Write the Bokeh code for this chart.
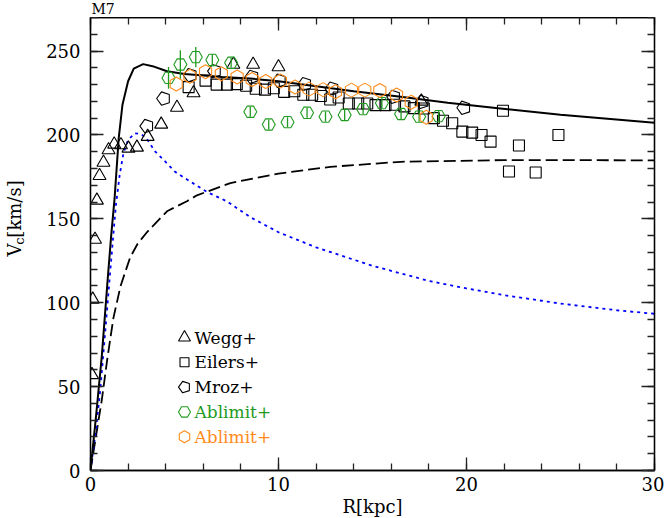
import numpy as np
from bokeh.plotting import figure
from bokeh.layouts import column, row
from bokeh.models import Range1d, LinearAxis, SingleIntervalTicker, ColumnDataSource
from bokeh.core.properties import value
from bokeh.embed import file_html
from bokeh.resources import INLINE

# ---------------- model curves ----------------
r_total = [0, 0.3, 0.6, 0.9, 1.1, 1.28, 1.5, 1.7, 2.0, 2.3, 2.8, 3.3, 4.07, 5.0, 5.85, 7.0, 8.5,
           10, 12, 14, 16.5, 19, 21.8, 25, 30]
v_total = [0, 33, 68, 112, 140, 162, 198, 218, 232, 239.5, 242.2, 241, 238, 236.3, 235.6, 234.6, 233.6,
           232, 229, 226, 222.7, 219.2, 215.8, 212, 207.3]

r_halo = [0, 0.3, 0.6, 0.9, 1.22, 1.6, 2.11, 2.5, 3.0, 4.07, 5.13, 5.66, 7.44, 10, 12.76, 16.5, 22, 26, 30]
v_halo = [0, 21, 42, 67, 91, 110, 127, 135, 142, 154.5, 160.5, 164, 171.3, 177, 181, 184, 185, 185, 184.8]

r_bulge = [0, 0.3, 0.52, 0.8, 1.0, 1.15, 1.35, 1.55, 1.75, 2.0, 2.35, 2.7, 3.0, 3.45, 3.9, 4.5, 5.3,
           6.2, 7.26, 8.5, 10, 12, 15, 18, 20, 22, 25, 28, 30]
v_bulge = [0, 25, 48, 85, 112, 132, 158, 176, 189, 197, 201, 200.5, 197.5, 190, 185, 178, 172.3,
           166, 160.4, 151, 142, 133, 122, 113, 108.5, 104.5, 99.5, 95.5, 93.4]

# ---------------- observations ----------------
wegg_r = [0.08, 0.12, 0.24, 0.34, 0.48, 0.69, 0.96, 1.26, 1.62, 2.02, 2.47, 3.04, 3.76, 4.6, 5.48,
          7.6, 8.65, 10.0, 17.6]
wegg_v = [57, 102, 137.7, 161, 175.7, 183.6, 191, 194.4, 194, 192, 192.6, 199, 206.3, 216.4, 225,
          242, 242, 240.5, 220]

eilers_r = [5.22, 6.12, 6.71, 7.26, 7.78, 8.28, 8.79, 9.28, 9.75, 10.3, 10.84, 11.32, 11.79, 12.25,
            12.75, 13.2, 13.74, 14.24, 14.72, 15.16, 15.69, 16.2, 16.7, 17.2, 17.73, 18.26, 18.75,
            19.24, 19.78, 20.3, 20.8, 21.28, 21.94, 22.26, 22.79, 23.68, 24.89]
eilers_v = [228.5, 232.4, 230, 230, 230.3, 229.3, 227.5, 227, 227.8, 225.7, 226, 224, 224, 223.2,
            221.1, 222.3, 218.7, 218.7, 218.7, 217.8, 217.8, 218, 217, 216, 215.8, 210, 208.5,
            207, 202, 201.4, 200, 196, 214.4, 178.2, 193.7, 177.6, 200]

mroz_r = [3.0, 3.89, 5.31, 6.6, 8.59, 10.05, 11.4, 12.85, 16.13, 17.65, 19.86]
mroz_v = [205.3, 221.7, 235.6, 238, 234.6, 232.3, 230.3, 227.6, 222.7, 219.7, 216.2]

ablg_r = [4.15, 4.78, 5.6, 6.48, 7.48, 8.5, 9.48, 10.48, 11.52, 12.5, 13.52, 14.5, 15.5, 16.52, 17.48, 18.52]
ablg_v = [234, 242, 246.4, 244.7, 243, 213.8, 206.2, 207.6, 213.2, 210.9, 211.9, 215.4, 219, 212.5, 210.9, 211.2]
ablg_e = [6.5, 8.5, 6, 3.5, 3, 3, 3, 3, 3, 3, 3, 3, 3, 3, 3, 3]

ablo_r = [4.56, 5.29, 6.12, 6.96, 7.8, 8.6, 9.32, 10.1, 10.88, 11.63, 12.37, 13.03, 13.88, 14.59,
          15.39, 16.28, 17.06, 17.86]
ablo_v = [230.4, 235, 237.7, 236.5, 234.5, 233, 231.8, 232.1, 228.6, 227.3, 227, 225.7, 226.7, 226.7,
          226.5, 223.8, 219.5, 210.6]

legend_labels = ["Wegg+", "Eilers+", "Mroz+", "Ablimit+", "Ablimit+"]
title_text = "M7"
x_label = "R[kpc]"
y_label_main, y_label_sub, y_label_unit = "V", "c", "[km/s]"

# ---------------- layout / style ----------------
FONT = "DejaVu Serif"
GREEN = "#1f9a1f"
ORANGE = "#ff8c1a"
PAGE_W, PAGE_H = 664, 518
TOP_H, LEFT_W = 17, 42
FW, FH = 564, 453
ML, MR, MT, MB = 48, 10, 0, 48
X0, X1, Y0, Y1 = 0, 30, 0, 270
SX, SY = FW / (X1 - X0), FH / (Y1 - Y0)
FRAME_LEFT = LEFT_W + ML
FRAME_TOP = TOP_H + MT


def px_to_x(page_x):
    return X0 + (page_x - FRAME_LEFT) / SX


def px_to_y(page_y):
    return Y0 + (FRAME_TOP + FH - page_y) / SY


def strip(w, h):
    f = figure(width=w, height=h, x_range=Range1d(0, w), y_range=Range1d(0, h),
               min_border_left=0, min_border_right=0, min_border_top=0, min_border_bottom=0,
               x_axis_location=None, y_axis_location=None,
               output_backend="svg", toolbar_location=None, tools="")
    f.outline_line_color = None
    f.grid.visible = False
    f.background_fill_color = "white"
    f.border_fill_color = "white"
    return f


# top strip with the panel name
top_fig = strip(PAGE_W, TOP_H)
top_fig.text(x=[91], y=[TOP_H / 2], text=[title_text], text_font=value(FONT), text_font_size="14px",
             text_color="black", text_baseline="middle", text_align="left")

# left strip with the y-axis title (V_c[km/s])
MAIN_H = MT + FH + MB
left_fig = strip(LEFT_W, MAIN_H)
start = 282  # page y where the rotated label starts (bottom)
left_fig.text(x=[14], y=[PAGE_H - start], text=[y_label_main], angle=np.pi / 2,
              text_font=value(FONT), text_font_size="18px", text_color="black",
              text_baseline="middle", text_align="left")
left_fig.text(x=[19], y=[PAGE_H - (start - 13)], text=[y_label_sub], angle=np.pi / 2,
              text_font=value(FONT), text_font_size="13px", text_color="black",
              text_baseline="middle", text_align="left")
left_fig.text(x=[14], y=[PAGE_H - (start - 21)], text=[y_label_unit], angle=np.pi / 2,
              text_font=value(FONT), text_font_size="18px", text_color="black",
              text_baseline="middle", text_align="left")

p = figure(frame_width=FW, frame_height=FH, min_border_left=ML, min_border_right=MR,
           min_border_top=MT, min_border_bottom=MB,
           x_range=Range1d(X0, X1), y_range=Range1d(Y0, Y1),
           output_backend="svg", toolbar_location=None, tools="")
p.xgrid.visible = False
p.ygrid.visible = False
p.outline_line_color = "black"
p.outline_line_width = 1.3
p.background_fill_color = "white"
p.border_fill_color = "white"


def style_axis(ax, labels):
    ax.major_tick_in = 13
    ax.major_tick_out = 0
    ax.minor_tick_in = 7
    ax.minor_tick_out = 0
    ax.axis_line_color = "black"
    ax.axis_line_width = 1.3
    ax.major_tick_line_color = "#222222"
    ax.minor_tick_line_color = "#222222"
    ax.major_tick_line_width = 1.3
    ax.minor_tick_line_width = 1.3
    if labels:
        ax.major_label_text_font = FONT
        ax.major_label_text_font_size = "18px"
        ax.major_label_text_color = "black"
    else:
        ax.major_label_text_color = None
        ax.major_label_text_font_size = "0px"
        ax.major_label_standoff = 0


p.xaxis.ticker = SingleIntervalTicker(interval=10, num_minor_ticks=5)
p.yaxis.ticker = SingleIntervalTicker(interval=50, num_minor_ticks=5)
style_axis(p.xaxis[0], True)
style_axis(p.yaxis[0], True)
p.xaxis.major_label_standoff = 6
p.yaxis.major_label_standoff = 10
p.xaxis.axis_label = x_label
p.xaxis.axis_label_text_font = FONT
p.xaxis.axis_label_text_font_size = "18px"
p.xaxis.axis_label_text_font_style = "normal"
p.xaxis.axis_label_text_color = "black"
p.xaxis.axis_label_standoff = 2

top_ax = LinearAxis(ticker=SingleIntervalTicker(interval=10, num_minor_ticks=5))
style_axis(top_ax, False)
p.add_layout(top_ax, "above")
right_ax = LinearAxis(ticker=SingleIntervalTicker(interval=50, num_minor_ticks=5))
style_axis(right_ax, False)
p.add_layout(right_ax, "right")

# ---------------- curves ----------------
p.line(r_halo, v_halo, line_color="black", line_width=1.8, line_dash="12 5")
p.line(r_bulge, v_bulge, line_color="blue", line_width=1.8, line_dash="3 4")
p.line(r_total, v_total, line_color="black", line_width=2)

# ---------------- markers ----------------
p.scatter(wegg_r, wegg_v, marker="triangle", size=13, fill_color=None, line_color="black", line_width=1.1)
p.scatter(eilers_r, eilers_v, marker="square", size=11, fill_color=None, line_color="black", line_width=1.1)


def pentagons(xs, ys, r_px):
    ang = np.pi / 2 + 2 * np.pi * np.arange(5) / 5
    px = [list(x + r_px * np.cos(ang) / SX) for x in xs]
    py = [list(y + r_px * np.sin(ang) / SY) for y in ys]
    return px, py


def draw_pent(xs, ys, r_px):
    try:
        from bokeh.models import Ngon
        src = ColumnDataSource(dict(x=list(xs), y=list(ys)))
        g = Ngon(x="x", y="y", radius=r_px, radius_units="screen", n=5, angle=np.pi / 2,
                 fill_color=None, line_color="black", line_width=1.1)
        p.add_glyph(src, g)
    except Exception:
        px, py = pentagons(xs, ys, r_px)
        p.patches(px, py, fill_color=None, line_color="black", line_width=1.1)


draw_pent(mroz_r, mroz_v, 7)

lo = [v - e for v, e in zip(ablg_v, ablg_e)]
hi = [v + e for v, e in zip(ablg_v, ablg_e)]
p.segment(ablg_r, lo, ablg_r, hi, line_color=GREEN, line_width=1.3)
p.scatter(ablg_r, ablg_v, marker="hex", size=13, fill_color=None, line_color=GREEN, line_width=1.1)
p.scatter(ablo_r, ablo_v, marker="hex", angle=np.pi / 2, size=14, fill_color=None,
          line_color=ORANGE, line_width=1.1)

# ---------------- legend (manual) ----------------
lx = px_to_x(184)
tx = px_to_x(194)
rows = [px_to_y(337 + 24.8 * i) for i in range(5)]
p.scatter([lx], [rows[0]], marker="triangle", size=12, fill_color=None, line_color="black", line_width=1.1)
p.scatter([lx], [rows[1]], marker="square", size=9, fill_color=None, line_color="black", line_width=1.1)
draw_pent([lx], [rows[2]], 6)
p.scatter([lx], [rows[3]], marker="hex", size=12, fill_color=None, line_color=GREEN, line_width=1.1)
p.scatter([lx], [rows[4]], marker="hex", angle=np.pi / 2, size=12, fill_color=None,
          line_color=ORANGE, line_width=1.1)
leg_src = ColumnDataSource(dict(x=[tx] * 5, y=rows, t=legend_labels,
                                c=["black", "black", "black", GREEN, ORANGE]))
p.text(x="x", y="y", text="t", text_color="c", source=leg_src, text_font=value(FONT),
       text_font_size="17px", text_baseline="middle", text_align="left")

layout = column(top_fig, row(left_fig, p, spacing=0), spacing=0)
open("out.html", "w").write(file_html(layout, INLINE))
